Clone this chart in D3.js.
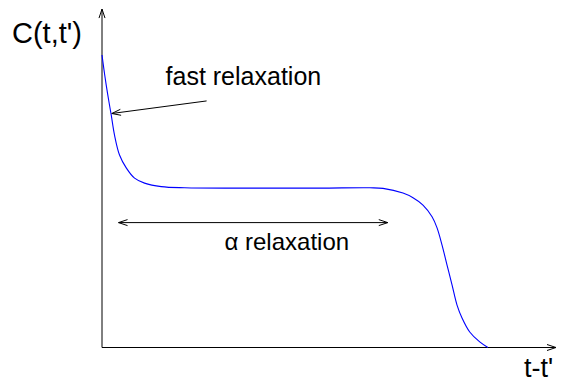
<!DOCTYPE html>
<html>
<head>
<meta charset="utf-8">
<script src="https://cdn.jsdelivr.net/npm/d3@7"></script>
<style>
  body { margin: 0; background: #fff; }
  text { font-family: "Liberation Sans", Arial, Helvetica, sans-serif; fill: #000; }
</style>
</head>
<body>
<div id="chart"></div>
<script>
// curve C(t,t') against t-t' (arbitrary units)
var curveX = [0, 0.044, 0.093, 0.165, 0.203, 0.276, 0.386, 0.534, 0.717, 0.937, 1.305, 1.819,
              3.25, 4.8, 5.9, 6.19, 6.63, 6.85, 7.07, 7.27, 7.38, 7.49, 7.6, 7.71, 7.82, 7.93,
              8.1, 8.32, 8.5];
var curveY = [1.0, 0.949, 0.897, 0.829, 0.795, 0.726, 0.658, 0.614, 0.579, 0.562, 0.55, 0.546,
              0.545, 0.545, 0.546, 0.544, 0.528, 0.512, 0.487, 0.447, 0.409, 0.35, 0.282, 0.214,
              0.145, 0.101, 0.053, 0.019, 0];

// axis extents and labels
var xMax = 10, yMax = 1.157;
var xLabel = "t-t'", yLabel = "C(t,t')";

// annotations: [x1, y1, x2, y2] in data units
var fastArrow = [2.304, 0.843, 0.216, 0.800];
var fastLabel = {text: "fast relaxation", x: 1.40, y: 0.897};
var alphaArrow = [0.364, 0.427, 6.295, 0.427];
var alphaLabel = {text: "\u03b1 relaxation", x: 4.07, y: 0.333};

var width = 561, height = 382;
var margin = {left: 102, bottom: 34.5};

var x = d3.scaleLinear().domain([0, xMax]).range([margin.left, 556]);
var y = d3.scaleLinear().domain([0, 1]).range([height - margin.bottom, 55]);

var svg = d3.select("#chart").append("svg")
    .attr("width", width)
    .attr("height", height);

// open "V" arrow head at (x2,y2) pointing away from (x1,y1)
function arrowHead(g, x1, y1, x2, y2, len, half) {
  var a = Math.atan2(y2 - y1, x2 - x1);
  var bx = x2 - len * Math.cos(a), by = y2 - len * Math.sin(a);
  var nx = -Math.sin(a) * half, ny = Math.cos(a) * half;
  g.append("path")
    .attr("d", "M" + (bx + nx) + "," + (by + ny) + "L" + x2 + "," + y2 + "L" + (bx - nx) + "," + (by - ny))
    .attr("fill", "none")
    .attr("stroke", "#000")
    .attr("stroke-width", 1);
}

function arrowLine(g, x1, y1, x2, y2, both) {
  g.append("line")
    .attr("x1", x1).attr("y1", y1)
    .attr("x2", x2).attr("y2", y2)
    .attr("stroke", "#000")
    .attr("stroke-width", 1);
  arrowHead(g, x1, y1, x2, y2, 9, 3);
  if (both) arrowHead(g, x2, y2, x1, y1, 9, 3);
}

// axes
var axes = svg.append("g");
arrowLine(axes, x(0), y(0), x(xMax), y(0));
arrowLine(axes, x(0), y(0), x(0), y(yMax));

svg.append("text")
    .attr("x", 12).attr("y", 43)
    .style("font-size", "29px")
    .text(yLabel);

svg.append("text")
    .attr("x", 524).attr("y", 377)
    .style("font-size", "27px")
    .text(xLabel);

// the curve
var line = d3.line()
    .x(function(d) { return x(d[0]); })
    .y(function(d) { return y(d[1]); })
    .curve(d3.curveCatmullRom.alpha(0.5));

svg.append("path")
    .datum(d3.zip(curveX, curveY))
    .attr("d", line)
    .attr("fill", "none")
    .attr("stroke", "#0000ff")
    .attr("stroke-width", 1.1);

// annotations
var ann = svg.append("g");
arrowLine(ann, x(fastArrow[0]), y(fastArrow[1]), x(fastArrow[2]), y(fastArrow[3]));
ann.append("text")
    .attr("x", x(fastLabel.x)).attr("y", y(fastLabel.y))
    .style("font-size", "25px")
    .text(fastLabel.text);

arrowLine(ann, x(alphaArrow[0]), y(alphaArrow[1]), x(alphaArrow[2]), y(alphaArrow[3]), true);
ann.append("text")
    .attr("x", x(alphaLabel.x)).attr("y", y(alphaLabel.y))
    .attr("text-anchor", "middle")
    .style("font-size", "24px")
    .text(alphaLabel.text);
</script>
</body>
</html>
